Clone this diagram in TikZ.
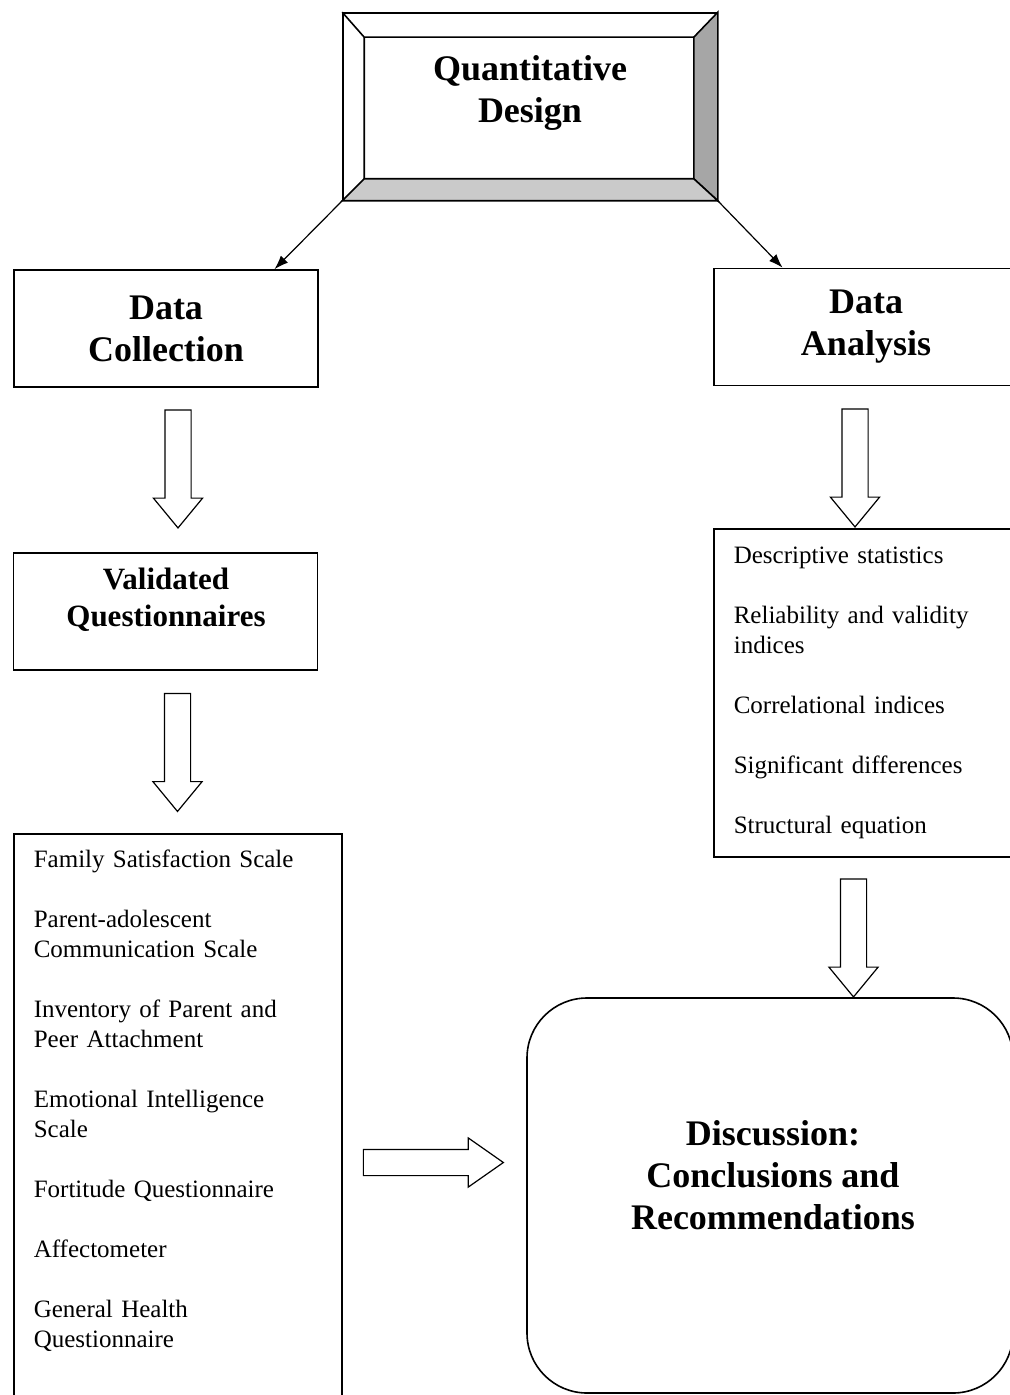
\documentclass[tikz,border=0pt]{standalone}
\usepackage{fontspec}
\setmainfont{Liberation Serif}
\usetikzlibrary{shapes.arrows,arrows.meta,calc}
\definecolor{bevelside}{HTML}{A6A6A6}
\definecolor{bevelbottom}{HTML}{CACACA}
\begin{document}
\begin{tikzpicture}[x=0.5pt,y=-0.5pt,
    box/.style={draw, line width=0.8pt, minimum width=152pt, minimum height=58.5pt, align=center, font=\fontsize{18}{21}\selectfont\bfseries},
    head/.style={align=center, font=\fontsize{18}{21}\selectfont\bfseries},
    list/.style={draw, line width=0.8pt, anchor=north west, align=left, inner xsep=10pt, inner ysep=8pt, font=\fontsize{12.5}{15}\selectfont},
    hollow/.style={single arrow, draw, line width=0.6pt, minimum height=59pt, minimum width=24pt, inner xsep=0pt, inner ysep=6.25pt, single arrow head extend=5.75pt, single arrow tip angle=79}]
  \tikzset{link/.style={-{Latex[length=7pt,width=5pt]}, line width=0.6pt}}
  \useasboundingbox (0,0) rectangle (1010,1395);
  \clip (0,0) rectangle (1010,1395);
  \node[draw, line width=0.8pt, minimum width=187pt, minimum height=93.5pt] (design) at (530,106.5) {};
  \coordinate (dnw) at ($(design.north west)+(22,25)$);
  \coordinate (dne) at ($(design.north east)+(-24,25)$);
  \coordinate (dse) at ($(design.south east)+(-24,-22)$);
  \coordinate (dsw) at ($(design.south west)+(22,-22)$);
  \filldraw[fill=bevelside, line width=0.8pt] (design.north east) -- (dne) -- (dse) -- (design.south east) -- cycle;
  \filldraw[fill=bevelbottom, line width=0.8pt] (design.south west) -- (dsw) -- (dse) -- (design.south east) -- cycle;
  \draw[line width=0.8pt] (design.north west) -- (dnw) -- (dne) (dnw) -- (dsw);
  \node[head] (designtxt) at (530,93) {Quantitative\\Design};
  \node[box] (coll) at (166,328.5) {Data\\Collection};
  \node[box] (anal) at (866,327) {Data\\Analysis};
  \node[box] (valid) at (165.5,611.5) {};
  \node[head, font=\fontsize{15.5}{18.5}\selectfont\bfseries] (validtxt) at (166,600) {Validated\\Questionnaires};
  \node[list, text width=144pt] (scales) at (13,833) {Family Satisfaction Scale\\[15pt]
    Parent-adolescent\\Communication Scale\\[15pt]
    Inventory of Parent and\\Peer Attachment\\[15pt]
    Emotional Intelligence\\Scale\\[15pt]
    Fortitude Questionnaire\\[15pt]
    Affectometer\\[15pt]
    General Health\\Questionnaire\\[30pt]\mbox{}};
  \node[list, text width=133pt, minimum height=164pt] (stats) at (713,528) {Descriptive statistics\\[15pt]
    Reliability and validity\\indices\\[15pt]
    Correlational indices\\[15pt]
    Significant differences\\[15pt]
    Structural equation};
  \node[draw, line width=0.8pt, rounded corners=30pt, minimum width=243pt, minimum height=197.5pt] (disc) at (770,1195.5) {};
  \node[head] (disctxt) at (773,1175) {Discussion:\\Conclusions and\\Recommendations};
  \draw[link] (design.south west) -- ($(coll.north west)!0.855!(coll.north east)$);
  \draw[link] (design.south east) -- ($(anal.north west)!0.227!(anal.north east)$);
  \node[hollow, rotate=-90] (a1) at (178,461) {};
  \node[hollow, rotate=-90] (a2) at (177.5,744.5) {};
  \node[hollow, rotate=-90] (a3) at (855,460) {};
  \node[hollow, rotate=-90] (a4) at (853.5,930) {};
  \node[hollow, minimum height=70pt, single arrow tip angle=70] (a5) at (424,1162.5) {};
\end{tikzpicture}
\end{document}
